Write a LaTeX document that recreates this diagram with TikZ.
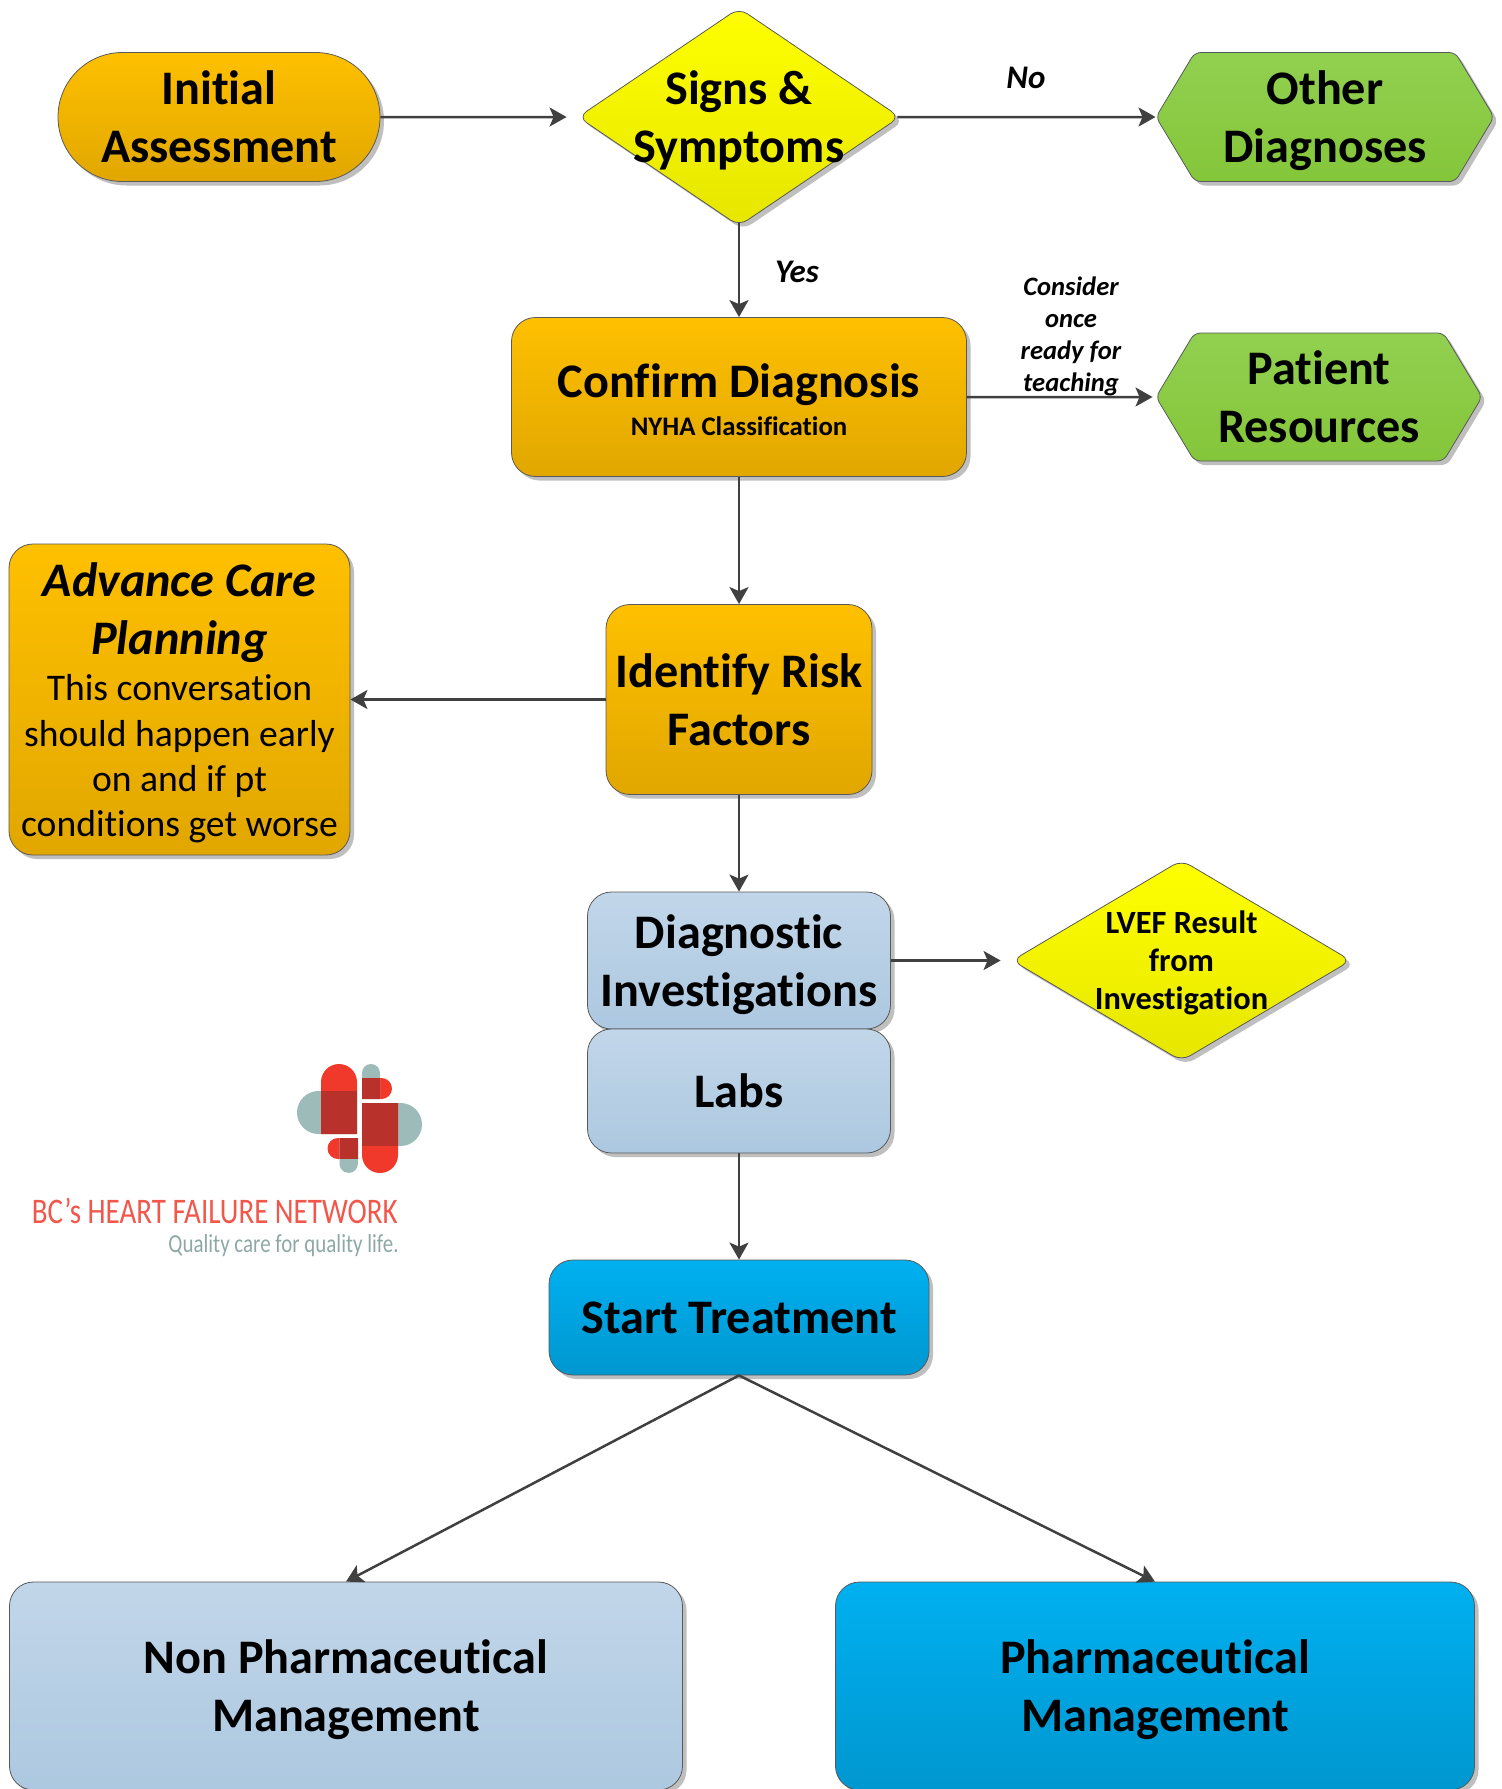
\documentclass[tikz,border=0pt]{standalone}
\usepackage{xcolor}
\usepackage{fontspec}
\setmainfont[Ligatures=NoCommon]{Carlito}
\newfontfamily\logofont[FakeStretch=0.806,Ligatures=NoCommon]{Carlito}
\usepackage{tikz}
\usetikzlibrary{arrows.meta,shadows,shapes.geometric,shapes.misc,shapes.symbols}

\definecolor{linegray}{HTML}{404040}
\definecolor{logored}{HTML}{F0392B}
\definecolor{logoteal}{HTML}{9DBBB8}
\definecolor{logodark}{HTML}{B9312B}
\newcommand{\descline}{\fontsize{18.8}{22.4}\selectfont\mdseries}
\newcommand{\subline}{\fontsize{13.4}{16}\selectfont}

\begin{document}
\begin{tikzpicture}[x=0.5pt,y=-0.5pt,
							every node/.style={align=center,inner sep=0pt,font=\fontsize{24.1}{29}\selectfont\bfseries},
							flow/.style={draw=black!65,line width=0.4pt,drop shadow={shadow xshift=2pt,shadow yshift=-2pt,fill=black!25,opacity=1}},
							orangebox/.style={flow,rounded corners=12pt,top color={rgb,255:red,255;green,192;blue,0},bottom color={rgb,255:red,225;green,167;blue,0}},
							bluebox/.style={flow,rounded corners=12pt,top color={rgb,255:red,194;green,214;blue,233},bottom color={rgb,255:red,172;green,200;blue,224}},
							skybox/.style={flow,rounded corners=12pt,top color={rgb,255:red,0;green,176;blue,240},bottom color={rgb,255:red,0;green,151;blue,208}},
							yellowbox/.style={flow,diamond,rounded corners=5pt,top color=yellow,bottom color={rgb,255:red,230;green,230;blue,0}},
							greenbox/.style={flow,signal,signal to=west and east,signal pointer angle=118,rounded corners=3pt,top color={rgb,255:red,146;green,208;blue,80},bottom color={rgb,255:red,132;green,198;blue,58}},
							link/.style={draw=linegray,line width=1.25pt,-{Stealth[length=8.5pt,width=9.5pt,inset=2pt]}},
							tag/.style={font=\fontsize{16.5}{18}\selectfont\bfseries\itshape}]
			\useasboundingbox (0,0) rectangle (1501,1789);

			\node[flow,rounded rectangle,minimum width=161pt,minimum height=64.5pt,top color={rgb,255:red,255;green,192;blue,0},bottom color={rgb,255:red,225;green,167;blue,0}] (initial) at (219,117) {Initial\\Assessment};
			\node[yellowbox,minimum width=161pt,minimum height=109pt,label={center:Signs \&\\\smash{Symptoms}}] (signs) at (739,117) {};
			\node[greenbox,minimum width=169pt,minimum height=64.5pt] (other) at (1325,117) {Other\\\smash{Diagnoses}};
			\node[orangebox,minimum width=227.5pt,minimum height=79.5pt] (confirm) at (739,397) {\rule{0pt}{19.3pt}Confirm Diagnosis\\[-10pt]\subline\smash{NYHA Classification}};
			\node[greenbox,minimum width=163pt,minimum height=64pt] (patient) at (1319,397) {Patient\\Resources};
			\node[orangebox,minimum width=133pt,minimum height=95pt] (risk) at (739,699.5) {Identify Risk\\Factors};
			\node[orangebox,minimum width=170.5pt,minimum height=155.5pt] (advance) at (179.5,699.5) {\itshape Advance Care\\\itshape Planning\\[-5.7pt]\descline This conversation\\[-6.4pt]\descline should happen early\\[-6.4pt]\descline on and if pt\\[-6.4pt]\descline\smash{conditions get worse}};
			\node[bluebox,minimum width=151.5pt,minimum height=68.5pt] (diagnostic) at (739,960.5) {Diagnostic\\\smash{Investigations}};
			\node[bluebox,minimum width=151.5pt,minimum height=62pt] (labs) at (739,1091) {Labs};
			\node[yellowbox,minimum width=169.5pt,minimum height=100.5pt,label={[font=\fontsize{16.2}{19}\selectfont\bfseries]center:LVEF Result\\from\\\smash{Investigation}}] (lvef) at (1181.5,960.5) {};
			\node[skybox,minimum width=190pt,minimum height=57.5pt] (start) at (739,1317.5) {Start Treatment};
			\node[bluebox,minimum width=336.5pt,minimum height=104pt] (nonpharm) at (346,1686) {Non Pharmaceutical\\\smash{Management}};
			\node[skybox,minimum width=319.5pt,minimum height=104pt] (pharm) at (1155,1686) {Pharmaceutical\\\smash{Management}};

			\draw[link,shorten >=5.5pt] (initial) -- (signs);
			\draw[link,shorten <=-1.5pt] (signs) -- (other);
			\draw[link,shorten <=-1.5pt] (signs) -- (confirm);
			\draw[link,shorten >=1.5pt] (confirm) -- (patient);
			\draw[link] (confirm) -- (risk);
			\draw[link] (risk) -- (advance);
			\draw[link] (risk) -- (diagnostic);
			\draw[link,shorten >=5.5pt] (diagnostic) -- (lvef);
			\draw[link] (labs) -- (start);
			\draw[link] (start.south) -- (nonpharm.north);
			\draw[link] (start.south) -- (pharm.north);

			\node[tag] (nolabel) at (1026,78) {No};
			\node[tag] (yeslabel) at (797,272) {Yes};
			\node[tag,font=\fontsize{13.3}{16}\selectfont\bfseries\itshape] (consider) at (1071,336) {Consider\\once\\ready for\\teaching};

			\fill[logoteal] (357,1091) -- (318.5,1091) arc[radius=10.75pt,start angle=90,end angle=270] -- (357,1134) -- cycle;
			\fill[logored] (321,1134) -- (321,1082) arc[radius=9pt,start angle=180,end angle=0] -- (357,1134) -- cycle;
			\fill[logodark] (321,1091) rectangle (357,1134);
			\fill[logored] (362,1078) -- (381.5,1078) arc[radius=5.25pt,start angle=90,end angle=-90] -- (362,1099) -- cycle;
			\fill[logoteal] (362,1099) -- (362,1073) arc[radius=4.5pt,start angle=180,end angle=0] -- (380,1099) -- cycle;
			\fill[logodark] (362,1078) rectangle (380,1099);
			\fill[logoteal] (362,1103) -- (400.5,1103) arc[radius=10.75pt,start angle=90,end angle=-90] -- (362,1146) -- cycle;
			\fill[logored] (362,1103) -- (362,1155) arc[radius=9pt,start angle=180,end angle=360] -- (398,1103) -- cycle;
			\fill[logodark] (362,1103) rectangle (398,1146);
			\fill[logored] (358,1138) -- (338,1138) arc[radius=5.25pt,start angle=90,end angle=270] -- (358,1159) -- cycle;
			\fill[logoteal] (339.5,1138) -- (339.5,1163.7) arc[radius=4.6pt,start angle=180,end angle=360] -- (358,1138) -- cycle;
			\fill[logodark] (339.5,1138) rectangle (358,1159);
			\node[anchor=base east,text=logored!85,font=\fontsize{18}{20}\logofont] (logotitle) at (398,1223) {BC’s HEART FAILURE NETWORK};
			\node[anchor=base east,text=logoteal!90!black,font=\fontsize{13}{15}\logofont] (logotag) at (399,1252) {Quality care for quality life.};
		\end{tikzpicture}
\end{document}
